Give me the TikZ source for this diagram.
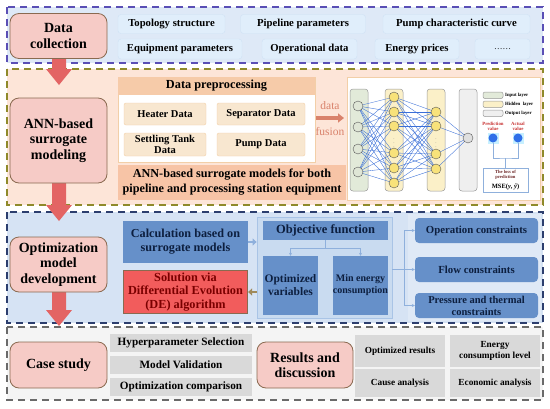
\documentclass[tikz,border=0pt]{standalone}
\usepackage{fontspec}
\setmainfont{Liberation Serif}
\usetikzlibrary{arrows.meta}
\definecolor{secAfill}{HTML}{DEE9F7}
\definecolor{secAdraw}{HTML}{5A4FB5}
\definecolor{secBfill}{HTML}{FDE5D8}
\definecolor{secBdraw}{HTML}{8F8A2A}
\definecolor{secCfill}{HTML}{D6E3F4}
\definecolor{secCright}{HTML}{DFE9F6}
\definecolor{secCdraw}{HTML}{2C3E6E}
\definecolor{secDfill}{HTML}{F4F4F4}
\definecolor{secDdraw}{HTML}{6A6A6A}
\definecolor{pinkfill}{HTML}{F6CBC6}
\definecolor{pinkdraw}{HTML}{8A6A50}
\definecolor{itemfill}{HTML}{E0EEFB}
\definecolor{itemdraw}{HTML}{CFE2F5}
\definecolor{prehead}{HTML}{F6CBA9}
\definecolor{predraw}{HTML}{F2CFA8}
\definecolor{dataitem}{HTML}{F8E7D0}
\definecolor{annbox}{HTML}{F7C4A6}
\definecolor{steel}{HTML}{6690C9}
\definecolor{navytext}{HTML}{0D1F3F}
\definecolor{panelfill}{HTML}{C9DBF0}
\definecolor{paneldraw}{HTML}{A9C4E6}
\definecolor{redbox}{HTML}{F25C5C}
\definecolor{redtext}{HTML}{7A0000}
\definecolor{grayitem}{HTML}{D9D9D9}
\definecolor{bigarrow}{HTML}{E36464}
\definecolor{fusion}{HTML}{D9826B}
\definecolor{nnblue}{HTML}{3A6FD8}
\definecolor{conline}{HTML}{8FB0DC}
\definecolor{inlayer}{HTML}{E2EAD9}
\definecolor{hidlayer}{HTML}{FBF0C8}
\definecolor{outlayer}{HTML}{EFEFEF}
\definecolor{inneur}{HTML}{DFE6D6}
\definecolor{hidneur}{HTML}{F8E27A}
\definecolor{predred}{HTML}{C83232}
\definecolor{cyanbg}{HTML}{C8F0FF}
\definecolor{dotblue}{HTML}{2F6FE8}
\definecolor{losstext}{HTML}{6E2828}
\definecolor{olivearr}{HTML}{A08A5A}
\tikzset{
  secbox/.style={line width=1.3pt, dash pattern=on 7pt off 5pt},
  pinkbox/.style={draw=pinkdraw, fill=pinkfill, rounded corners=9pt, line width=0.8pt, align=center,
    font=\fontsize{14}{15.5}\selectfont\bfseries, inner sep=1pt, minimum width=97pt},
  itembox/.style={fill=itemfill, draw=itemdraw, rounded corners=3pt, font=\fontsize{10.7}{12}\selectfont\bfseries,
    inner sep=0pt, minimum height=19pt},
  dbox/.style={fill=dataitem, draw=predraw, line width=0.4pt, rounded corners=2pt, align=center,
    font=\fontsize{10.5}{10.5}\selectfont\bfseries, inner sep=0pt, minimum height=22pt},
  bluebox/.style={fill=steel, text=navytext, align=center, inner sep=0pt, font=\fontsize{11.5}{13}\selectfont\bfseries},
  conbox/.style={bluebox, rounded corners=4pt, minimum width=123pt, minimum height=25pt, font=\fontsize{10.8}{12}\selectfont\bfseries},
  grayb/.style={fill=grayitem, align=center, inner sep=0pt, font=\fontsize{11.2}{13}\selectfont\bfseries},
  gridb/.style={fill=grayitem, align=center, inner sep=0pt, minimum width=90pt, font=\fontsize{9.3}{11}\selectfont\bfseries},
  layerbox/.style={draw=gray!80, rounded corners=3pt, line width=0.5pt},
  neuron/.style={circle, draw=gray!70!black, line width=0.4pt, minimum size=10pt, inner sep=0pt},
  nnline/.style={nnblue, line width=0.35pt},
  tiny/.style={font=\fontsize{4.8}{5.2}\selectfont\bfseries, inner sep=0pt},
  con/.style={conline, line width=0.7pt, -{Stealth[length=3pt,width=3pt]}},
}
\newcommand{\bigarr}[3]{% x, top, tip
  \fill[bigarrow] (#1-7,#2) -- (#1+7,#2) -- (#1+7,#3-16) -- (#1+13,#3-16) -- (#1,#3) -- (#1-13,#3-16) -- (#1-7,#3-16) -- cycle;}
\begin{document}
\begin{tikzpicture}[x=1pt,y=-1pt]
\useasboundingbox (0,0) rectangle (550,408);
\fill[white] (0,0) rectangle (550,408);
% ---------- sections ----------
\fill[secAfill] (7,7) rectangle (543,63);
\draw[secbox, secAdraw] (7,7) rectangle (543,63);
\fill[secBfill] (7,69) rectangle (543,205);
\draw[secbox, secBdraw] (7,69) rectangle (543,205);
\fill[secCfill] (7,212) rectangle (543,323);
\fill[secCright] (408,214) rectangle (541,321);
\draw[secbox, secCdraw] (7,212) rectangle (543,323);
\fill[secDfill] (7,327) rectangle (543,400);
\draw[secbox, secDdraw] (7,327) rectangle (543,400);
% ---------- big arrows ----------
\bigarr{59}{57}{85}
\bigarr{59}{182}{221}
\bigarr{59}{291}{326}
% ---------- section 1 ----------
\node[pinkbox, minimum height=45pt] (dc) at (58.5,36) {Data\\collection};
\node[itembox, minimum width=107pt] (topo) at (171.5,24) {Topology structure};
\node[itembox, minimum width=125pt] (pipe) at (303,24) {Pipeline parameters};
\node[itembox, minimum width=147pt] (pump) at (456.5,24) {Pump characteristic curve};
\node[itembox, minimum width=124pt, minimum height=20pt] (equip) at (180,49) {Equipment parameters};
\node[itembox, minimum width=95pt, minimum height=20pt] (oper) at (309.5,49) {Operational data};
\node[itembox, minimum width=84pt, minimum height=20pt] (energy) at (417,49) {Energy prices};
\node[itembox, minimum width=55pt, minimum height=20pt, font=\fontsize{8.5}{9}\selectfont] (dots) at (502.5,49) {…… };
% ---------- section 2 ----------
\node[pinkbox, minimum height=85pt] (ann) at (58.5,140.5) {ANN-based\\surrogate\\modeling};
\draw[predraw, fill=white, line width=0.6pt] (118,77) rectangle (315,162);
\node[fill=prehead, minimum width=197pt, minimum height=18pt, inner sep=0pt, font=\fontsize{12.3}{13}\selectfont\bfseries] (prep) at (216.5,86) {Data preprocessing};
\node[dbox, minimum width=82pt] (heater) at (165,114) {Heater Data};
\node[dbox, minimum width=88pt] (sep) at (261,114) {Separator Data};
\node[dbox, minimum width=82pt, minimum height=23pt] (settle) at (165,144.5) {Settling Tank\\Data};
\node[dbox, minimum width=88pt, minimum height=23pt] (pumpd) at (261,144.5) {Pump Data};
\node[fill=annbox, minimum width=228pt, minimum height=35pt, inner sep=0pt, align=center, font=\fontsize{12.2}{15}\selectfont\bfseries] (annmod) at (232,182.5) {ANN-based surrogate models for both\\pipeline and processing station equipment};
\node[text=fusion, font=\fontsize{11.5}{12}\selectfont, inner sep=0pt] (fdata) at (330,106) {data};
\node[text=fusion, font=\fontsize{11.5}{12}\selectfont, inner sep=0pt] (ffus) at (330,132) {fusion};
\coordinate (fa) at (316,118);
\coordinate (fb) at (344,118);
\draw[fusion, line width=3.5pt, -{Triangle[length=6pt,width=9pt]}] (fa) -- (fb);
% NN panel
\draw[predraw, fill=white, line width=0.8pt] (347,77) rectangle (540,200);
\draw[layerbox, fill=inlayer] (350,89) rectangle (368,191);
\draw[layerbox, fill=hidlayer] (385,89) rectangle (403,191);
\draw[layerbox, fill=hidlayer] (427,89) rectangle (445,191);
\draw[layerbox, fill=outlayer] (459,89) rectangle (477,191);
\foreach \y [count=\i] in {106,127,149,172} \coordinate (a\i) at (358,\y);
\foreach \y [count=\i] in {97,112,126,153,168,183} \coordinate (b\i) at (394,\y);
\foreach \y [count=\i] in {112,126,154,169} \coordinate (c\i) at (436,\y);
\coordinate (d1) at (468,138);
\foreach \i in {1,...,4} \foreach \j in {1,...,6} \draw[nnline] (a\i) -- (b\j);
\foreach \i in {1,...,6} \foreach \j in {1,...,4} \draw[nnline] (b\i) -- (c\j);
\foreach \i in {1,...,4} \draw[nnline] (c\i) -- (d1);
\foreach \i in {1,...,4} \node[neuron, fill=inneur] (na\i) at (a\i) {};
\foreach \i in {1,...,6} \node[neuron, fill=hidneur] (nb\i) at (b\i) {};
\foreach \i in {1,...,4} \node[neuron, fill=hidneur] (nc\i) at (c\i) {};
\node[neuron, fill=gray!25] (nd1) at (d1) {};
\node[text=gray, font=\fontsize{5}{5}\selectfont] (vd1) at (394,140) {$\vdots$};
\node[text=gray, font=\fontsize{5}{5}\selectfont] (vd2) at (436,140) {$\vdots$};
% legend
\draw[layerbox, rounded corners=2pt, fill=inlayer] (483,92) rectangle (503,98.5);
\draw[layerbox, rounded corners=2pt, fill=hidlayer] (483,101) rectangle (503,107.5);
\draw[layerbox, rounded corners=2pt, fill=outlayer] (483,110) rectangle (503,116.5);
\node[tiny, anchor=west] (lg1) at (505,95.3) {Input layer};
\node[tiny, anchor=west] (lg2) at (505,104.3) {Hidden\ \ layer};
\node[tiny, anchor=west] (lg3) at (505,113.3) {Output layer};
\node[tiny, text=predred, align=center] (pv) at (493,126) {Prediction\\value};
\node[tiny, text=predred, align=center] (av) at (518,126) {Actual\\value};
\fill[cyanbg] (487.5,132.5) rectangle (498.5,143.5);
\fill[cyanbg] (512.5,132.5) rectangle (523.5,143.5);
\node[circle, fill=dotblue, minimum size=9pt, inner sep=0pt] (pc) at (493,138) {};
\node[circle, fill=dotblue, minimum size=9pt, inner sep=0pt] (ac) at (518,138) {};
\node[draw=conline, line width=0.6pt, minimum width=45pt, minimum height=24pt, inner sep=0pt] (loss) at (505.5,180) {};
\node[tiny, text=losstext, align=center, font=\fontsize{4.6}{5}\selectfont\bfseries] (losst) at (505.5,174.5) {The loss of\\prediction};
\node[inner sep=0pt, font=\fontsize{6.5}{7}\selectfont\bfseries] (mse) at (505.5,186.5) {MSE(\textit{y}, \textit{ŷ})};
\coordinate (jn) at (505.5,158);
\draw[conline, line width=0.7pt] (pc.south) |- (jn) -| (ac.south);
\draw[conline, line width=0.7pt] (jn) -- (loss.north);
% ---------- section 3 ----------
\node[pinkbox, minimum height=55pt] (opt) at (58.5,264.5) {Optimization\\model\\development};
\node[bluebox, minimum width=125pt, minimum height=42pt, font=\fontsize{12.2}{14}\selectfont\bfseries] (calc) at (185.5,242) {Calculation based on\\surrogate models};
\node[fill=redbox, draw=pinkdraw, line width=1.2pt, text=redtext, minimum width=124pt, minimum height=43pt, inner sep=0pt, align=center, font=\fontsize{12.3}{13.5}\selectfont\bfseries] (de) at (185.5,292) {Solution via\\Differential Evolution\\(DE) algorithm};
\node[fill=panelfill, draw=paneldraw, line width=0.8pt, minimum width=135pt, minimum height=101pt, inner sep=0pt] (panel) at (324.5,267.5) {};
\node[bluebox, minimum width=125pt, minimum height=19pt, font=\fontsize{12.5}{13}\selectfont\bfseries] (obj) at (325.5,230.5) {Objective function};
\node[bluebox, minimum width=55pt, minimum height=59pt] (ovar) at (290.5,285.5) {Optimized\\variables};
\node[bluebox, minimum width=55pt, minimum height=59pt, font=\fontsize{10}{12}\selectfont\bfseries] (minen) at (360.5,285.5) {Min energy\\consumption};
\coordinate (tj) at (325.5,248);
\draw[conline, line width=0.7pt] (obj.south) -- (tj);
\draw[con] (tj) -| (ovar.north);
\draw[con] (tj) -| (minen.north);
\draw[conline, line width=2.5pt, -{Triangle[length=4pt,width=7pt]}] (calc.east) -- (calc.east -| panel.west);
\draw[olivearr, line width=2.5pt, -{Triangle[length=4pt,width=7pt]}] (de.east -| panel.west) -- (de.east);
\node[conbox] (oc) at (476.5,230.5) {Operation constraints};
\node[conbox] (fc) at (476.5,269.5) {Flow constraints};
\node[conbox, font=\fontsize{10.5}{12}\selectfont\bfseries] (pc2) at (476.5,305.5) {Pressure and thermal\\constraints};
\coordinate (bj) at (404,269.5);
\draw[conline, line width=0.7pt] (panel.east |- bj) -- (bj);
\draw[con] (bj) |- (oc.west);
\draw[con] (bj) -- (fc.west);
\draw[con] (bj) |- (pc2.west);
% ---------- section 4 ----------
\node[pinkbox, minimum height=46pt] (case) at (58.5,365) {Case study};
\node[grayb, minimum width=142pt, minimum height=18pt] (hyp) at (181,343) {Hyperparameter Selection};
\node[grayb, minimum width=142pt, minimum height=18pt] (mval) at (181,365) {Model Validation};
\node[grayb, minimum width=142pt, minimum height=18pt] (ocomp) at (181,387) {Optimization comparison};
\node[pinkbox, minimum width=96pt, minimum height=46pt] (res) at (305,365) {Results and\\discussion};
\node[gridb, minimum height=32pt] (ores) at (400,351) {Optimized results};
\node[gridb, minimum height=32pt] (ecl) at (495,351) {Energy\\consumption level};
\node[gridb, minimum height=28pt] (cause) at (400,383) {Cause analysis};
\node[gridb, minimum height=28pt] (econ) at (495,383) {Economic analysis};
\end{tikzpicture}
\end{document}
